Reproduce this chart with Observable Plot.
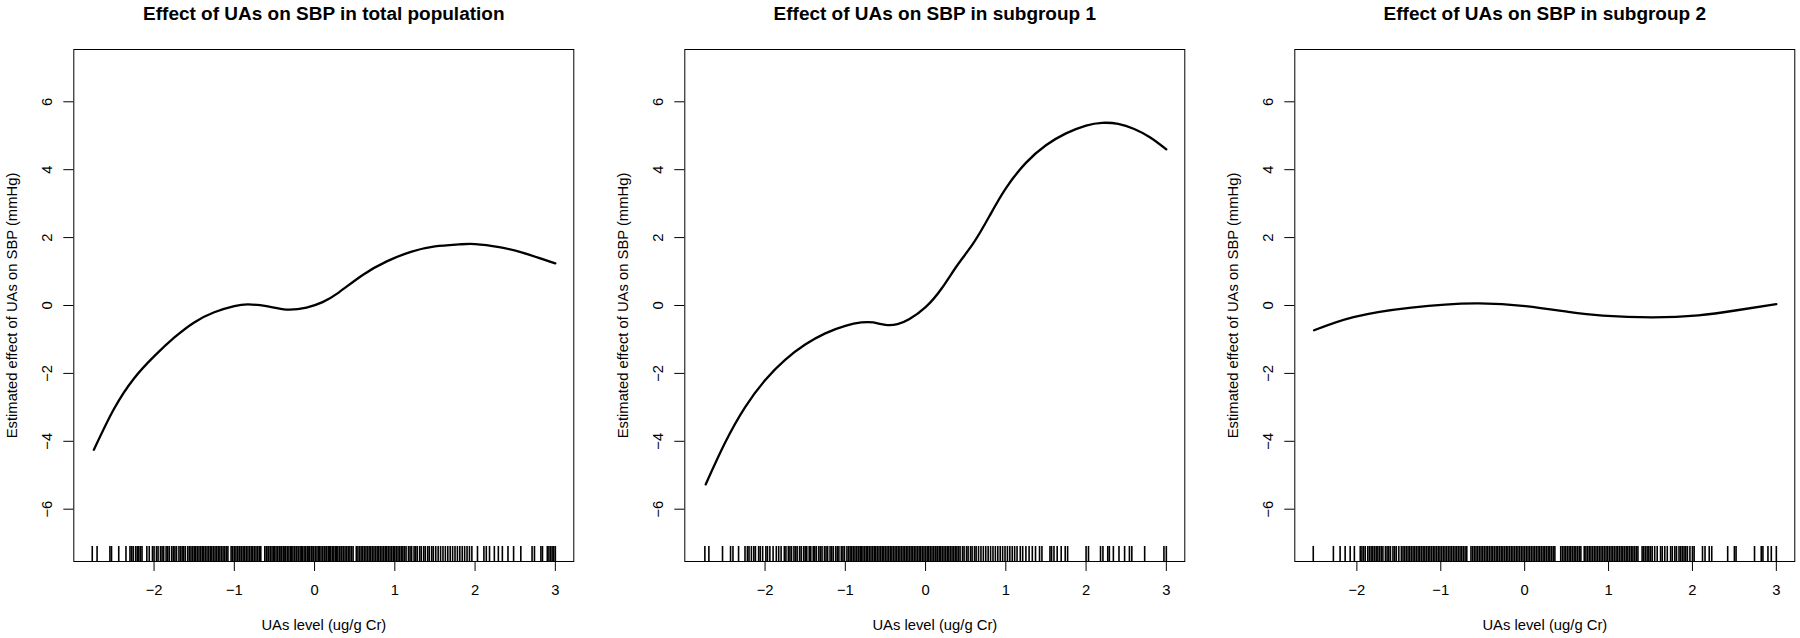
<!DOCTYPE html>
<html><head><meta charset="utf-8">
<script src="https://cdn.jsdelivr.net/npm/d3@7"></script>
<script src="https://cdn.jsdelivr.net/npm/@observablehq/plot@0.6"></script>
<style>
html,body{margin:0;padding:0;background:#fff;overflow:hidden}
#wrap{position:relative;width:1800px;height:638px;background:#fff}
#wrap svg{position:absolute;top:0}
</style></head><body><div id="wrap"></div>
<script>
// ---- data ----
const titles = [
  "Effect of UAs on SBP in total population",
  "Effect of UAs on SBP in subgroup 1",
  "Effect of UAs on SBP in subgroup 2"
];
const xLabel = "UAs level (ug/g Cr)";
const yLabel = "Estimated effect of UAs on SBP (mmHg)";
const xTicks = [-2, -1, 0, 1, 2, 3];
const yTicks = [-6, -4, -2, 0, 2, 4, 6];

// panel 1: total population
const p1X = [-2.75, -2.5, -2.25, -2.0, -1.75, -1.5, -1.25, -1.0, -0.83, -0.6, -0.35, -0.1, 0.1, 0.3, 0.6, 0.9, 1.2, 1.5, 1.8, 2.0, 2.3, 2.6, 3.0];
const p1Y = [-4.25, -3.05, -2.15, -1.5, -0.95, -0.5, -0.2, -0.02, 0.03, -0.02, -0.12, -0.06, 0.1, 0.38, 0.9, 1.3, 1.58, 1.74, 1.8, 1.81, 1.72, 1.55, 1.24];
// panel 2: subgroup 1
const p2X = [-2.74, -2.5, -2.25, -2.0, -1.75, -1.5, -1.25, -1.0, -0.8, -0.65, -0.5, -0.35, -0.2, 0.0, 0.2, 0.4, 0.6, 0.8, 1.0, 1.25, 1.5, 1.75, 2.0, 2.2, 2.4, 2.6, 2.8, 3.0];
const p2Y = [-5.27, -4.05, -3.0, -2.2, -1.6, -1.15, -0.82, -0.6, -0.5, -0.5, -0.57, -0.55, -0.4, -0.05, 0.5, 1.2, 1.85, 2.65, 3.45, 4.2, 4.72, 5.07, 5.3, 5.38, 5.35, 5.2, 4.95, 4.6];
// panel 3: subgroup 2
const p3X = [-2.51, -2.04, -1.35, -0.58, 0.01, 0.52, 0.93, 1.52, 2.07, 2.53, 3.0];
const p3Y = [-0.73, -0.34, -0.06, 0.06, -0.02, -0.19, -0.30, -0.35, -0.29, -0.14, 0.04];

// rug (observed UAs levels)
const rug1 = [-2.77,-2.71,-2.55,-2.53,-2.44,-2.35,-2.30,-2.28,-2.26,-2.23,-2.21,-2.19,-2.17,-2.15,-2.09,-2.06,-2.02,-2.00,
-1.97,-1.95,-1.92,-1.90,-1.88,-1.85,-1.83,-1.81,-1.78,-1.76,-1.74,-1.72,-1.69,-1.67,-1.65,-1.63,-1.61,-1.58,-1.56,-1.54,-1.52,-1.50,-1.48,-1.46,-1.44,-1.42,-1.40,-1.38,-1.36,-1.34,-1.32,-1.30,-1.28,-1.26,-1.24,-1.22,-1.20,-1.18,-1.16,-1.14,-1.12,-1.10,-1.08,-1.04,-1.02,-1.00,-0.98,-0.96,-0.94,-0.93,-0.91,-0.89,-0.87,-0.85,-0.83,-0.81,-0.79,-0.77,-0.75,-0.73,-0.71,-0.69,-0.67,-0.62,-0.60,-0.58,-0.57,-0.55,-0.53,-0.51,-0.50,-0.48,-0.46,-0.44,-0.43,-0.41,-0.39,-0.37,-0.36,-0.34,-0.32,-0.30,-0.29,-0.27,-0.25,-0.23,-0.22,-0.20,-0.18,-0.16,-0.15,-0.13,-0.11,-0.09,-0.08,-0.06,-0.04,-0.02,-0.01,0.01,0.03,0.05,0.06,0.08,0.10,0.12,0.13,0.15,0.17,0.19,0.20,0.22,0.24,0.26,0.27,0.29,0.31,0.33,0.34,0.36,0.38,0.40,0.42,0.44,0.46,0.48,0.52,0.54,0.56,0.58,0.60,0.62,0.64,0.66,0.68,0.70,0.72,0.74,0.76,0.78,0.80,0.82,0.84,0.86,0.88,0.90,0.92,0.94,0.96,0.98,1.00,1.02,1.04,1.06,1.08,1.10,1.12,1.14,1.17,1.19,1.21,1.24,1.26,1.28,1.31,1.33,1.36,1.38,1.41,1.43,1.46,1.48,1.51,1.54,1.57,1.60,1.63,1.66,1.69,1.72,1.75,1.78,1.81,1.84,1.87,1.90,1.93,1.96,2.03,2.11,2.14,2.18,2.24,2.29,2.34,2.41,2.48,2.57,2.71,2.74,2.82,2.84,2.90,2.92,2.94,2.96,2.98,3.00];
const rug2 = [-2.75,-2.70,-2.53,-2.43,-2.40,-2.33,-2.25,-2.22,-2.20,-2.17,-2.14,-2.12,-2.08,-2.06,-2.03,-1.99,-1.97,-1.94,-1.90,-1.86,-1.83,-1.80,-1.76,-1.74,-1.71,-1.69,-1.67,-1.64,-1.62,-1.60,-1.57,-1.55,-1.52,-1.50,-1.48,-1.45,-1.43,-1.40,-1.38,-1.36,-1.33,-1.31,-1.29,-1.26,-1.24,-1.22,-1.19,-1.17,-1.15,-1.12,-1.10,-1.08,-1.05,-1.03,-1.01,-0.98,-0.96,-0.94,-0.92,-0.90,-0.88,-0.86,-0.84,-0.83,-0.81,-0.80,-0.78,-0.76,-0.74,-0.72,-0.70,-0.68,-0.66,-0.64,-0.62,-0.60,-0.58,-0.56,-0.54,-0.52,-0.50,-0.48,-0.46,-0.44,-0.42,-0.40,-0.38,-0.36,-0.34,-0.32,-0.30,-0.28,-0.26,-0.24,-0.22,-0.20,-0.18,-0.16,-0.14,-0.12,-0.10,-0.08,-0.06,-0.04,-0.02,0.00,0.02,0.04,0.06,0.08,0.10,0.12,0.13,0.15,0.17,0.19,0.21,0.23,0.25,0.27,0.29,0.31,0.33,0.35,0.37,0.39,0.41,0.43,0.46,0.48,0.51,0.53,0.56,0.58,0.61,0.63,0.66,0.69,0.72,0.75,0.78,0.81,0.84,0.87,0.90,0.93,0.96,0.99,1.02,1.05,1.08,1.11,1.14,1.18,1.21,1.25,1.29,1.33,1.37,1.42,1.45,1.55,1.57,1.60,1.64,1.69,1.74,1.77,2.00,2.03,2.18,2.21,2.27,2.29,2.34,2.41,2.48,2.54,2.57,2.73,2.97,3.00];
const rug3 = [-2.52,-2.28,-2.20,-2.14,-2.08,-2.03,-1.96,-1.94,-1.92,-1.90,-1.87,-1.85,-1.83,-1.81,-1.79,-1.77,-1.75,-1.73,-1.71,-1.69,-1.66,-1.64,-1.62,-1.60,-1.57,-1.55,-1.53,-1.50,-1.47,-1.45,-1.43,-1.41,-1.39,-1.37,-1.35,-1.33,-1.31,-1.29,-1.27,-1.25,-1.23,-1.21,-1.19,-1.17,-1.15,-1.13,-1.11,-1.09,-1.07,-1.05,-1.03,-1.01,-0.99,-0.97,-0.95,-0.93,-0.91,-0.89,-0.87,-0.85,-0.83,-0.81,-0.79,-0.77,-0.75,-0.73,-0.71,-0.69,-0.64,-0.62,-0.60,-0.58,-0.56,-0.54,-0.52,-0.50,-0.48,-0.46,-0.44,-0.42,-0.40,-0.38,-0.36,-0.34,-0.32,-0.30,-0.28,-0.26,-0.24,-0.22,-0.20,-0.18,-0.16,-0.14,-0.12,-0.10,-0.08,-0.06,-0.04,-0.02,0.00,0.02,0.04,0.06,0.08,0.10,0.12,0.14,0.16,0.18,0.20,0.22,0.24,0.26,0.28,0.30,0.32,0.34,0.36,0.43,0.45,0.47,0.49,0.51,0.53,0.55,0.57,0.59,0.61,0.63,0.65,0.67,0.71,0.73,0.75,0.77,0.79,0.81,0.83,0.85,0.87,0.89,0.91,0.93,0.95,0.97,0.99,1.01,1.03,1.05,1.07,1.09,1.11,1.13,1.15,1.17,1.19,1.21,1.23,1.25,1.27,1.29,1.31,1.33,1.35,1.40,1.42,1.44,1.46,1.48,1.50,1.52,1.55,1.58,1.62,1.64,1.67,1.70,1.74,1.76,1.79,1.81,1.84,1.86,1.88,1.90,1.92,1.94,1.97,2.00,2.02,2.12,2.15,2.20,2.23,2.42,2.50,2.52,2.74,2.82,2.84,2.90,2.94,3.00];

const xDomains = [[-3.0, 3.23], [-3.0, 3.23], [-2.74, 3.22]];
const yDomain = [-7.54, 7.54];

// ---- layout ----
const FONT = "'Liberation Sans', Arial, Helvetica, sans-serif";
const lefts = [0, 610.7, 1221.4];
const ML = 73.3, MR = 5, MT = 49, MB = 77, BOXW = 500, H = 638;

const panels = [
  {x: p1X, y: p1Y, rug: rug1},
  {x: p2X, y: p2Y, rug: rug2},
  {x: p3X, y: p3Y, rug: rug3}
];
const fmt = d => (d < 0 ? "\u2212" : "") + Math.abs(d);

const wrap = document.getElementById("wrap");
panels.forEach((p, i) => {
  const pts = p.x.map((x, j) => ({x, y: p.y[j]}));
  const svg = Plot.plot({
    width: ML + BOXW + MR,
    height: H,
    marginLeft: ML, marginRight: MR, marginTop: MT, marginBottom: MB,
    style: {fontFamily: FONT, fontSize: "14.8px", background: "white", color: "black", overflow: "visible"},
    x: {domain: xDomains[i]},
    y: {domain: yDomain},
    marks: [
      Plot.ruleX(p.rug, {x: d => d, stroke: "black", strokeWidth: 1.6, insetTop: 497}),
      Plot.line(pts, {x: "x", y: "y", curve: "natural", stroke: "black", strokeWidth: 2.3}),
      Plot.frame({stroke: "black", strokeWidth: 1}),
      Plot.axisX({ticks: xTicks, tickSize: 10, tickPadding: 12.5, fontSize: 14.8, tickFormat: fmt, label: null}),
      Plot.axisY({ticks: yTicks, tickSize: 10, tickFormat: () => "", label: null}),
      Plot.text(yTicks, {y: d => d, text: d => fmt(d), frameAnchor: "left", dx: -26.3, rotate: -90, textAnchor: "middle", lineAnchor: "middle", fontSize: 14.8}),
      Plot.text([yLabel], {text: d => d, frameAnchor: "left", dx: -61.5, rotate: -90, textAnchor: "middle", lineAnchor: "middle", fontSize: 14.8}),
      Plot.text([xLabel], {text: d => d, frameAnchor: "bottom", dy: 63.5, textAnchor: "middle", lineAnchor: "middle", fontSize: 14.8}),
      Plot.text([titles[i]], {text: d => d, frameAnchor: "top", dy: -36, textAnchor: "middle", lineAnchor: "middle", fontSize: 19, fontWeight: "bold"})
    ]
  });
  svg.style.left = lefts[i] + "px";
  wrap.appendChild(svg);
});
</script></body></html>
